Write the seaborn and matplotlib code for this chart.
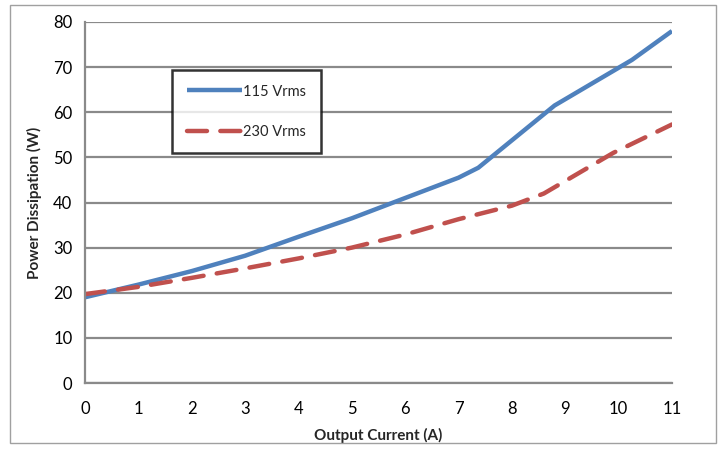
import matplotlib
matplotlib.use("Agg")
import matplotlib.pyplot as plt
import seaborn as sns
import pandas as pd
from matplotlib.patches import Rectangle

# Data
x_115 = [0, 1, 2, 3, 4, 5, 6, 7, 7.37, 8.8, 10.25, 11]
y_115 = [19.0, 21.8, 24.8, 28.2, 32.4, 36.5, 41.0, 45.5, 47.7, 61.5, 71.6, 78.0]
x_230 = [0, 1, 2, 3, 4, 5, 6, 7, 8, 8.6, 9.9, 11]
y_230 = [19.7, 21.3, 23.3, 25.4, 27.6, 30.0, 32.9, 36.3, 39.3, 42.0, 51.0, 57.3]
series_names = ["115 Vrms", "230 Vrms"]
x_ticks = list(range(0, 12))
y_ticks = list(range(0, 90, 10))

sns.set_theme(style="white")
plt.rcParams['font.family'] = ['Lato', 'DejaVu Sans']

fig = plt.figure(figsize=(7.23, 4.49), dpi=100)
ax = fig.add_axes([85/723, 1 - 383/449, (672-85)/723, (383-22)/449])

df1 = pd.DataFrame({"x": x_115, "y": y_115})
df2 = pd.DataFrame({"x": x_230, "y": y_230})
sns.lineplot(data=df1, x="x", y="y", ax=ax, color="#4F81BD", linewidth=3.2,
             label=series_names[0], sort=False)
sns.lineplot(data=df2, x="x", y="y", ax=ax, color="#C0504D", linewidth=3.2,
             label=series_names[1], sort=False, dashes=False)
ax.lines[1].set_dashes([4.5, 3.0])
ax.lines[1].set_dash_capstyle("round")
ax.lines[0].set_solid_capstyle("butt")

ax.set_xlim(0, 11)
ax.set_ylim(0, 80)
ax.set_xticks(x_ticks)
ax.set_yticks(y_ticks)
ax.grid(axis="y", color="#8a8a8a", linewidth=1.6)
ax.grid(axis="x", visible=False)
ax.set_axisbelow(True)
for s in ["top", "right"]:
    ax.spines[s].set_visible(False)
for s in ["left", "bottom"]:
    ax.spines[s].set_color("#8a8a8a")
    ax.spines[s].set_linewidth(1.6)
ax.tick_params(axis="both", which="major", direction="out", length=5, width=1.4,
               color="#8a8a8a", labelsize=12, labelcolor="#000000", pad=4)
ax.tick_params(axis="x", pad=8)
ax.set_xlabel("Output Current (A)", fontsize=11, fontweight="bold", labelpad=8)
ax.set_ylabel("Power Dissipation (W)", fontsize=11, fontweight="bold", labelpad=8)

leg = ax.legend(loc="upper left", bbox_to_anchor=((172-85)/587, (383-70)/361),
                frameon=True, fancybox=False, fontsize=10.5, handlelength=3.8,
                handletextpad=0.1, labelspacing=1.8, borderpad=1.0,
                borderaxespad=0)
leg.get_frame().set_edgecolor("black")
leg.get_frame().set_linewidth(1.8)
leg.get_frame().set_facecolor("white")

fig.patches.append(Rectangle((10/723, 1 - 443/449), (716-10)/723, (443-5)/449,
                             transform=fig.transFigure, fill=False,
                             edgecolor="#a0a0a0", linewidth=1.0))

fig.savefig("out.png", dpi=100)
